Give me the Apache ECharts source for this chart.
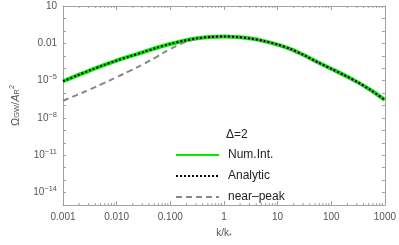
<!DOCTYPE html>
<html><head><meta charset="utf-8">
<script src="https://cdn.jsdelivr.net/npm/echarts@6/dist/echarts.min.js"></script>
<style>html,body{margin:0;padding:0;background:#fff}#c{width:399px;height:245px}</style>
</head><body><div id="c"></div>
<script>
const kValues = [0.001,0.0018,0.0032,0.0056,0.01,0.018,0.032,0.056,0.1,0.18,0.32,0.56,1,1.8,3.2,5.6,10,18,32,56,100,180,320,560,1000];
const numInt = [8.9e-6,2.5e-5,6.8e-5,1.7e-4,4.1e-4,9.3e-4,2.0e-3,4.4e-3,8.9e-3,0.0162,0.0251,0.0324,0.0355,0.0316,0.024,0.0151,7.9e-3,3.3e-3,1.05e-3,3.0e-4,8.9e-5,2.6e-5,6.9e-6,1.6e-6,2.8e-7];
const analytic = [8.9e-6,2.5e-5,6.8e-5,1.7e-4,4.1e-4,9.3e-4,2.0e-3,4.4e-3,8.9e-3,0.0162,0.0251,0.0324,0.0355,0.0316,0.024,0.0151,7.9e-3,3.3e-3,1.05e-3,3.0e-4,8.9e-5,2.6e-5,6.9e-6,1.6e-6,2.8e-7];
const nearPeak = [2.4e-7,6.9e-7,2.0e-6,6.0e-6,1.9e-5,6.3e-5,2.2e-4,8.3e-4,3.5e-3,0.0115,0.0229,0.0316,0.0355,0.0316,0.024,0.0148,7.6e-3,3.2e-3,1.0e-3,2.9e-4,8.5e-5,2.5e-5,6.6e-6,1.5e-6,2.7e-7];
const xTickLabels = {'-3':'0.001','-2':'0.010','-1':'0.100','0':'1','1':'10','2':'100','3':'1000'};
const yLabeledExps = [1,-2,-5,-8,-11,-14];
const seriesNames = ['Num.Int.','Analytic','near\u2013peak'];
const legendTitle = '\u0394=2';

const xMinor = [];
for (let e = -3; e < 3; e++) for (let m = 2; m <= 9; m++) xMinor.push([m*Math.pow(10,e), 1]);

const pair = (ys) => kValues.map((k,i)=>[k, ys[i]]);
const axisCol = '#a0a0a0';
const labCol = '#555';
const font = 'Liberation Sans, Arial, sans-serif';

const chart = echarts.init(document.getElementById('c'));
chart.setOption({
  animation:false,
  grid:{left:56,right:12,top:6,bottom:35},
  title:{text:legendTitle,left:221,top:124,textStyle:{fontSize:12,fontWeight:'normal',color:'#222',fontFamily:font}},
  legend:{data:seriesNames,orient:'vertical',left:170,top:144,itemWidth:43,itemHeight:14,itemGap:9,
    itemStyle:{opacity:0},
    textStyle:{fontSize:12,color:'#222',fontFamily:font,padding:[0,0,0,4]}},
  xAxis:[{type:'log',logBase:10,min:0.001,max:1000,interval:1,
    name:'k/k{s|*}',nameLocation:'middle',nameGap:22,
    nameTextStyle:{fontSize:10,color:labCol,fontFamily:font,rich:{s:{fontSize:7,padding:[6,0,0,0],color:labCol}}},
    axisLine:{lineStyle:{color:axisCol}},axisTick:{inside:true,length:4,lineStyle:{color:axisCol}},
    splitLine:{show:false},
    axisLabel:{fontSize:10,color:labCol,fontFamily:font,margin:7,
      formatter:v=>{const e=Math.round(Math.log10(v));return xTickLabels[String(e)]||'';}}},
   {type:'log',logBase:10,min:0.001,max:1000,interval:1,position:'top',
    axisLine:{lineStyle:{color:axisCol}},axisTick:{inside:true,length:4,lineStyle:{color:axisCol}},
    axisLabel:{show:false},splitLine:{show:false}}],
  yAxis:[{type:'log',logBase:10,min:1e-15,max:10,interval:1,
    name:'{o|\u03A9}{sub|GW}{o|/}{a|A}{sub|R}{sup|2}',nameLocation:'middle',nameGap:40,
    nameTextStyle:{color:labCol,fontFamily:font,rich:{
      o:{fontSize:11,color:labCol},a:{fontSize:11,fontStyle:'italic',color:labCol},
      sub:{fontSize:7.5,color:labCol,padding:[3,0,0,0]},sup:{fontSize:7.5,color:labCol,padding:[0,0,7,0]}}},
    axisLine:{lineStyle:{color:axisCol}},axisTick:{inside:true,length:3,lineStyle:{color:axisCol}},
    splitLine:{show:false},
    axisLabel:{color:labCol,fontFamily:font,margin:6,
      formatter:v=>{const e=Math.round(Math.log10(v));
        if(!yLabeledExps.includes(e))return '';
        if(e===1)return '{b|10}'; if(e===-2)return '{b|0.01}';
        return '{b|10}{s|\u2212'+(-e)+'}';},
      rich:{b:{fontSize:10,color:labCol},s:{fontSize:7.5,color:labCol,padding:[0,0,7,0]}}}},
   {type:'log',logBase:10,min:1e-15,max:10,interval:1,position:'right',
    axisLine:{lineStyle:{color:axisCol}},axisTick:{inside:true,length:3,lineStyle:{color:axisCol}},
    axisLabel:{show:false},splitLine:{show:false}}],
  series:[
    {name:seriesNames[0],type:'line',data:pair(numInt),symbol:'none',smooth:0.3,
      lineStyle:{color:'#00ee00',width:4},itemStyle:{color:'#00ee00'}},
    {name:seriesNames[2],type:'line',data:pair(nearPeak),symbol:'none',smooth:0.4,
      lineStyle:{color:'#888',width:2,type:[6,4]},itemStyle:{color:'#888'}},
    {name:seriesNames[1],type:'line',data:pair(analytic),symbol:'none',smooth:0.3,
      lineStyle:{color:'#000',width:2,type:[2,2]},itemStyle:{color:'#000'}},
    {type:'custom',data:xMinor,silent:true,clip:false,
      renderItem:(p,api)=>{const x=api.value(0);const b=api.coord([x,1e-15]);const t=api.coord([x,10]);
        return {type:'group',children:[
          {type:'line',shape:{x1:b[0],y1:b[1],x2:b[0],y2:b[1]-2},style:{stroke:axisCol,lineWidth:1}},
          {type:'line',shape:{x1:t[0],y1:t[1],x2:t[0],y2:t[1]+2},style:{stroke:axisCol,lineWidth:1}}]};}}
  ]
});
</script></body></html>
